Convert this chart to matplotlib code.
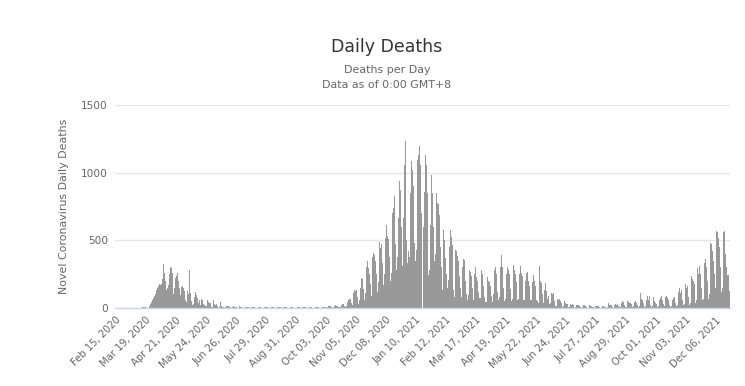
import numpy as np
import pandas as pd
import matplotlib
matplotlib.use("Agg")
import matplotlib.pyplot as plt

start_date = "2020-02-15"

# Daily deaths (weeks run Monday..Sunday)
lead_in_2020 = [0, 0,
    0, 0, 0, 0, 0, 0, 0,
    0, 0, 0, 0, 0, 0, 0,
    0, 0, 0, 0, 0, 0, 0]
mar_apr_2020 = [
    2, 0, 1, 3, 1, 2, 3,
    4, 4, 9, 10, 3, 2, 3,
    12, 20, 30, 45, 60, 75, 85,
    105, 130, 150, 165, 180, 210, 170,
    175, 215, 325, 260, 200, 135, 150,
    170, 250, 300, 305, 295, 255, 100,
    150, 220, 235, 258, 200, 150, 98]
may_jul_2020 = [
    135, 155, 165, 148, 125, 60, 45,
    123, 100, 278, 111, 115, 55, 25,
    30, 81, 118, 95, 74, 40, 60,
    25, 69, 65, 61, 30, 20, 12,
    15, 61, 45, 40, 35, 22, 8,
    5, 57, 30, 25, 30, 12, 3,
    8, 42, 25, 15, 10, 6, 2,
    4, 17, 15, 12, 8, 5, 2,
    3, 10, 12, 8, 6, 4, 1,
    2, 12, 8, 10, 6, 3, 1]
summer_2020 = [
    1, 6, 8, 5, 7, 3, 0,
    2, 5, 6, 9, 4, 2, 0,
    1, 4, 7, 5, 8, 3, 0,
    2, 6, 7, 9, 5, 1, 0,
    1, 4, 10, 6, 5, 2, 0,
    1, 5, 6, 7, 4, 2, 0,
    2, 5, 6, 5, 6, 2, 1,
    1, 4, 5, 6, 5, 3, 0,
    1, 3, 8, 6, 4, 2, 0,
    1, 4, 5, 6, 5, 2, 0,
    1, 6, 7, 5, 5, 3, 1,
    2, 8, 7, 9, 6, 3, 1,
    3, 8, 10, 9, 8, 4, 2]
autumn_2020 = [
    4, 13, 15, 12, 10, 6, 2,
    5, 15, 20, 18, 15, 10, 4,
    8, 25, 35, 30, 28, 18, 8,
    15, 45, 60, 70, 65, 40, 18,
    25, 110, 130, 125, 135, 80, 30,
    60, 150, 220, 210, 215, 140, 60,
    110, 300, 350, 295, 250, 180, 90,
    150, 380, 405, 390, 350, 250, 120,
    190, 488, 445, 475, 400, 330, 170,
    250, 520, 616, 530, 510, 380, 200,
    260, 600, 700, 739, 830, 470, 280]
winter_2021 = [
    380, 665, 936, 874, 600, 350, 310,
    665, 1059, 1236, 500, 330, 420, 380,
    850, 1084, 1194, 1022, 900, 480, 350,
    430, 1096, 1133, 1194, 1059, 700, 400,
    318, 600, 860, 1130, 1059, 847, 244,
    280, 613, 983, 850, 823, 600, 350,
    400, 850, 776, 771, 690, 450, 300,
    133, 453, 576, 500, 367, 250, 150,
    207, 450, 576, 527, 465, 300, 130,
    84, 428, 420, 384, 350, 240, 145]
spring_2021 = [
    84, 300, 392, 360, 355, 200, 100,
    60, 96, 281, 268, 240, 150, 47,
    59, 250, 305, 231, 200, 120, 71,
    71, 281, 250, 195, 160, 84, 47,
    47, 231, 200, 195, 160, 90, 47,
    60, 100, 281, 305, 250, 120, 60,
    80, 300, 392, 305, 280, 150, 50,
    70, 250, 305, 280, 250, 140, 50,
    70, 342, 318, 280, 250, 195, 60,
    70, 250, 308, 260, 234, 150, 60,
    60, 200, 259, 264, 200, 160, 62,
    62, 190, 271, 246, 200, 160, 60,
    49, 40, 313, 197, 185, 100, 49]
summer_2021 = [
    40, 135, 185, 123, 66, 86, 30,
    40, 111, 103, 111, 86, 49, 15,
    15, 66, 62, 66, 50, 37, 10,
    12, 60, 50, 40, 32, 30, 5,
    8, 30, 25, 30, 20, 12, 3,
    5, 25, 25, 20, 15, 8, 2,
    4, 25, 22, 25, 15, 5, 2,
    3, 25, 15, 12, 10, 6, 2,
    3, 17, 17, 15, 12, 5, 2,
    3, 17, 15, 12, 10, 5, 2,
    5, 37, 25, 25, 20, 10, 3,
    5, 25, 30, 25, 30, 15, 5,
    8, 40, 50, 45, 35, 20, 8]
autumn_2021 = [
    10, 50, 45, 40, 35, 30, 10,
    12, 50, 45, 50, 40, 25, 10,
    15, 111, 69, 60, 37, 20, 10,
    15, 60, 86, 62, 86, 25, 8,
    12, 79, 60, 49, 40, 30, 10,
    12, 60, 74, 86, 62, 30, 10,
    15, 80, 86, 74, 60, 25, 10,
    15, 62, 74, 80, 60, 35, 12,
    20, 120, 148, 111, 135, 60, 20,
    30, 140, 177, 150, 160, 80, 25,
    40, 234, 217, 200, 180, 100, 40,
    60, 296, 251, 308, 250, 150, 60,
    70, 333, 369, 362, 300, 200, 70,
    100, 480, 475, 419, 350, 250, 100,
    150, 567, 561, 517, 450, 300, 120,
    150, 561, 567, 505, 400, 300, 246,
    246, 123]

segments = [lead_in_2020, mar_apr_2020, may_jul_2020, summer_2020, autumn_2020,
            winter_2021, spring_2021, summer_2021, autumn_2021]
values = np.concatenate([np.asarray(s, dtype=float) for s in segments])
dates = pd.date_range(start_date, periods=len(values), freq="D")

title = "Daily Deaths"
subtitle_1 = "Deaths per Day"
subtitle_2 = "Data as of 0:00 GMT+8"
y_label = "Novel Coronavirus Daily Deaths"
y_ticks = [0, 500, 1000, 1500]
tick_step = 33

W, H = 745, 386
fig = plt.figure(figsize=(W / 100, H / 100), dpi=100)
ax = fig.add_axes([115 / W, 1 - 308 / H, 615 / W, 203 / H])

x = np.arange(len(values))
ax.bar(x, values, width=1.0, color="#999999", linewidth=0, antialiased=True)

ax.set_xlim(-0.5, len(values) - 0.5)
ax.set_ylim(0, 1500)
ax.set_yticks(y_ticks)
ax.set_yticklabels([str(v) for v in y_ticks], fontsize=7.6, color="#666666")
ax.yaxis.grid(True, color="#e6e6e6", linewidth=1)
ax.set_axisbelow(True)
ax.tick_params(axis="y", length=0, pad=5)

tick_pos = x[::tick_step]
ax.set_xticks(tick_pos)
ax.set_xticklabels([d.strftime("%b %d, %Y") for d in dates[::tick_step]],
                   rotation=45, ha="right", rotation_mode="anchor",
                   fontsize=7.2, color="#666666")
ax.tick_params(axis="x", length=0, pad=5)

for s in ["top", "right", "left"]:
    ax.spines[s].set_visible(False)
ax.spines["bottom"].set_color("#ccd6eb")
ax.spines["bottom"].set_linewidth(1)

ax.set_ylabel(y_label, fontsize=7.9, color="#666666", labelpad=9)

fig.text(387 / W, 1 - 47 / H, title, ha="center", va="center", fontsize=12.5, color="#333333")
fig.text(387 / W, 1 - 70 / H, subtitle_1, ha="center", va="center", fontsize=7.9, color="#666666")
fig.text(387 / W, 1 - 85 / H, subtitle_2, ha="center", va="center", fontsize=7.9, color="#666666")

fig.savefig("out.png", dpi=100)
